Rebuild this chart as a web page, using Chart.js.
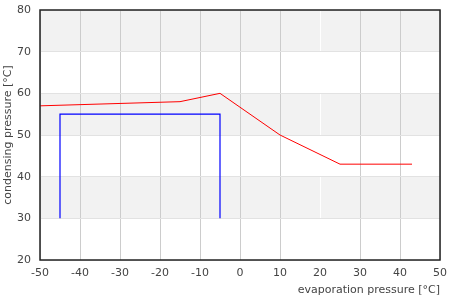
<!DOCTYPE html>
<html>
<head>
<meta charset="utf-8">
<script src="https://cdn.jsdelivr.net/npm/chart.js@4/dist/chart.umd.min.js"></script>
<style>
  html, body { margin: 0; padding: 0; background: #fff; }
  #wrap { width: 450px; height: 300px; }
</style>
</head>
<body>
<div id="wrap"><canvas id="c" width="450" height="300"></canvas></div>
<script>
  // envelope data
  var limitEvap = [-50, -15, -5, 10, 25, 43];
  var limitCond = [57, 58, 60, 50, 43, 43];
  var boxEvap = [-45, -45, -5, -5];
  var boxCond = [30, 55, 55, 30];
  var xTicks = [-50, -40, -30, -20, -10, 0, 10, 20, 30, 40, 50];
  var yTicks = [20, 30, 40, 50, 60, 70, 80];
  var shadedBands = [[30, 40], [50, 60], [70, 80]];

  function toPoints(xs, ys) {
    return xs.map(function (x, i) { return { x: x, y: ys[i] }; });
  }

  var tickFont = { family: 'DejaVu Sans', size: 11 };

  // grey bands behind the grid, then a frame around the plot
  var bandsPlugin = {
    id: 'bands',
    beforeDraw: function (chart) {
      var ctx = chart.ctx, area = chart.chartArea, y = chart.scales.y;
      ctx.save();
      ctx.fillStyle = '#f2f2f2';
      shadedBands.forEach(function (b) {
        var top = y.getPixelForValue(b[1]);
        var bottom = y.getPixelForValue(b[0]);
        ctx.fillRect(area.left, top, area.right - area.left, bottom - top);
      });
      ctx.restore();
    }
  };
  var framePlugin = {
    id: 'frame',
    afterDraw: function (chart) {
      var ctx = chart.ctx, a = chart.chartArea;
      ctx.save();
      ctx.strokeStyle = '#222';
      ctx.lineWidth = 1.5;
      ctx.strokeRect(a.left, a.top, a.right - a.left, a.bottom - a.top);
      ctx.restore();
    }
  };

  new Chart(document.getElementById('c').getContext('2d'), {
    type: 'scatter',
    data: {
      datasets: [{
        data: toPoints(limitEvap, limitCond),
        showLine: true,
        borderColor: '#ff0000',
        borderWidth: 1,
        pointRadius: 0,
        tension: 0
      }, {
        data: toPoints(boxEvap, boxCond),
        showLine: true,
        borderColor: '#0000ff',
        borderWidth: 1.2,
        pointRadius: 0,
        tension: 0
      }]
    },
    options: {
      responsive: false,
      animation: false,
      layout: { padding: { left: 0, right: 10, top: 10, bottom: 0 } },
      plugins: { legend: { display: false }, tooltip: { enabled: false } },
      scales: {
        x: {
          type: 'linear',
          min: -50,
          max: 50,
          afterBuildTicks: function (s) { s.ticks = xTicks.map(function (v) { return { value: v }; }); },
          afterFit: function (s) {
            s.height = 40;
            s.paddingLeft = 0;
            s.paddingRight = 0;
          },
          grid: {
            drawTicks: false,
            lineWidth: 1,
            color: function (c) { return c.tick && c.tick.value === 20 ? '#ffffff' : '#cccccc'; }
          },
          border: { display: false },
          ticks: { font: tickFont, color: '#444', padding: 7, maxRotation: 0 },
          title: {
            display: true,
            text: 'evaporation pressure [°C]',
            align: 'end',
            font: tickFont,
            color: '#444',
            padding: { top: 0, bottom: 3 }
          }
        },
        y: {
          type: 'linear',
          min: 20,
          max: 80,
          afterBuildTicks: function (s) { s.ticks = yTicks.map(function (v) { return { value: v }; }); },
          afterFit: function (s) {
            s.width = 40;
            s.paddingTop = 0;
            s.paddingBottom = 0;
          },
          grid: { drawTicks: false, lineWidth: 1, color: '#e2e2e2' },
          border: { display: false },
          ticks: { font: tickFont, color: '#444', padding: 9 },
          title: {
            display: true,
            text: 'condensing pressure [°C]',
            font: tickFont,
            color: '#444',
            padding: { top: 2, bottom: 0 }
          }
        }
      }
    },
    plugins: [bandsPlugin, framePlugin]
  });
</script>
</body>
</html>
